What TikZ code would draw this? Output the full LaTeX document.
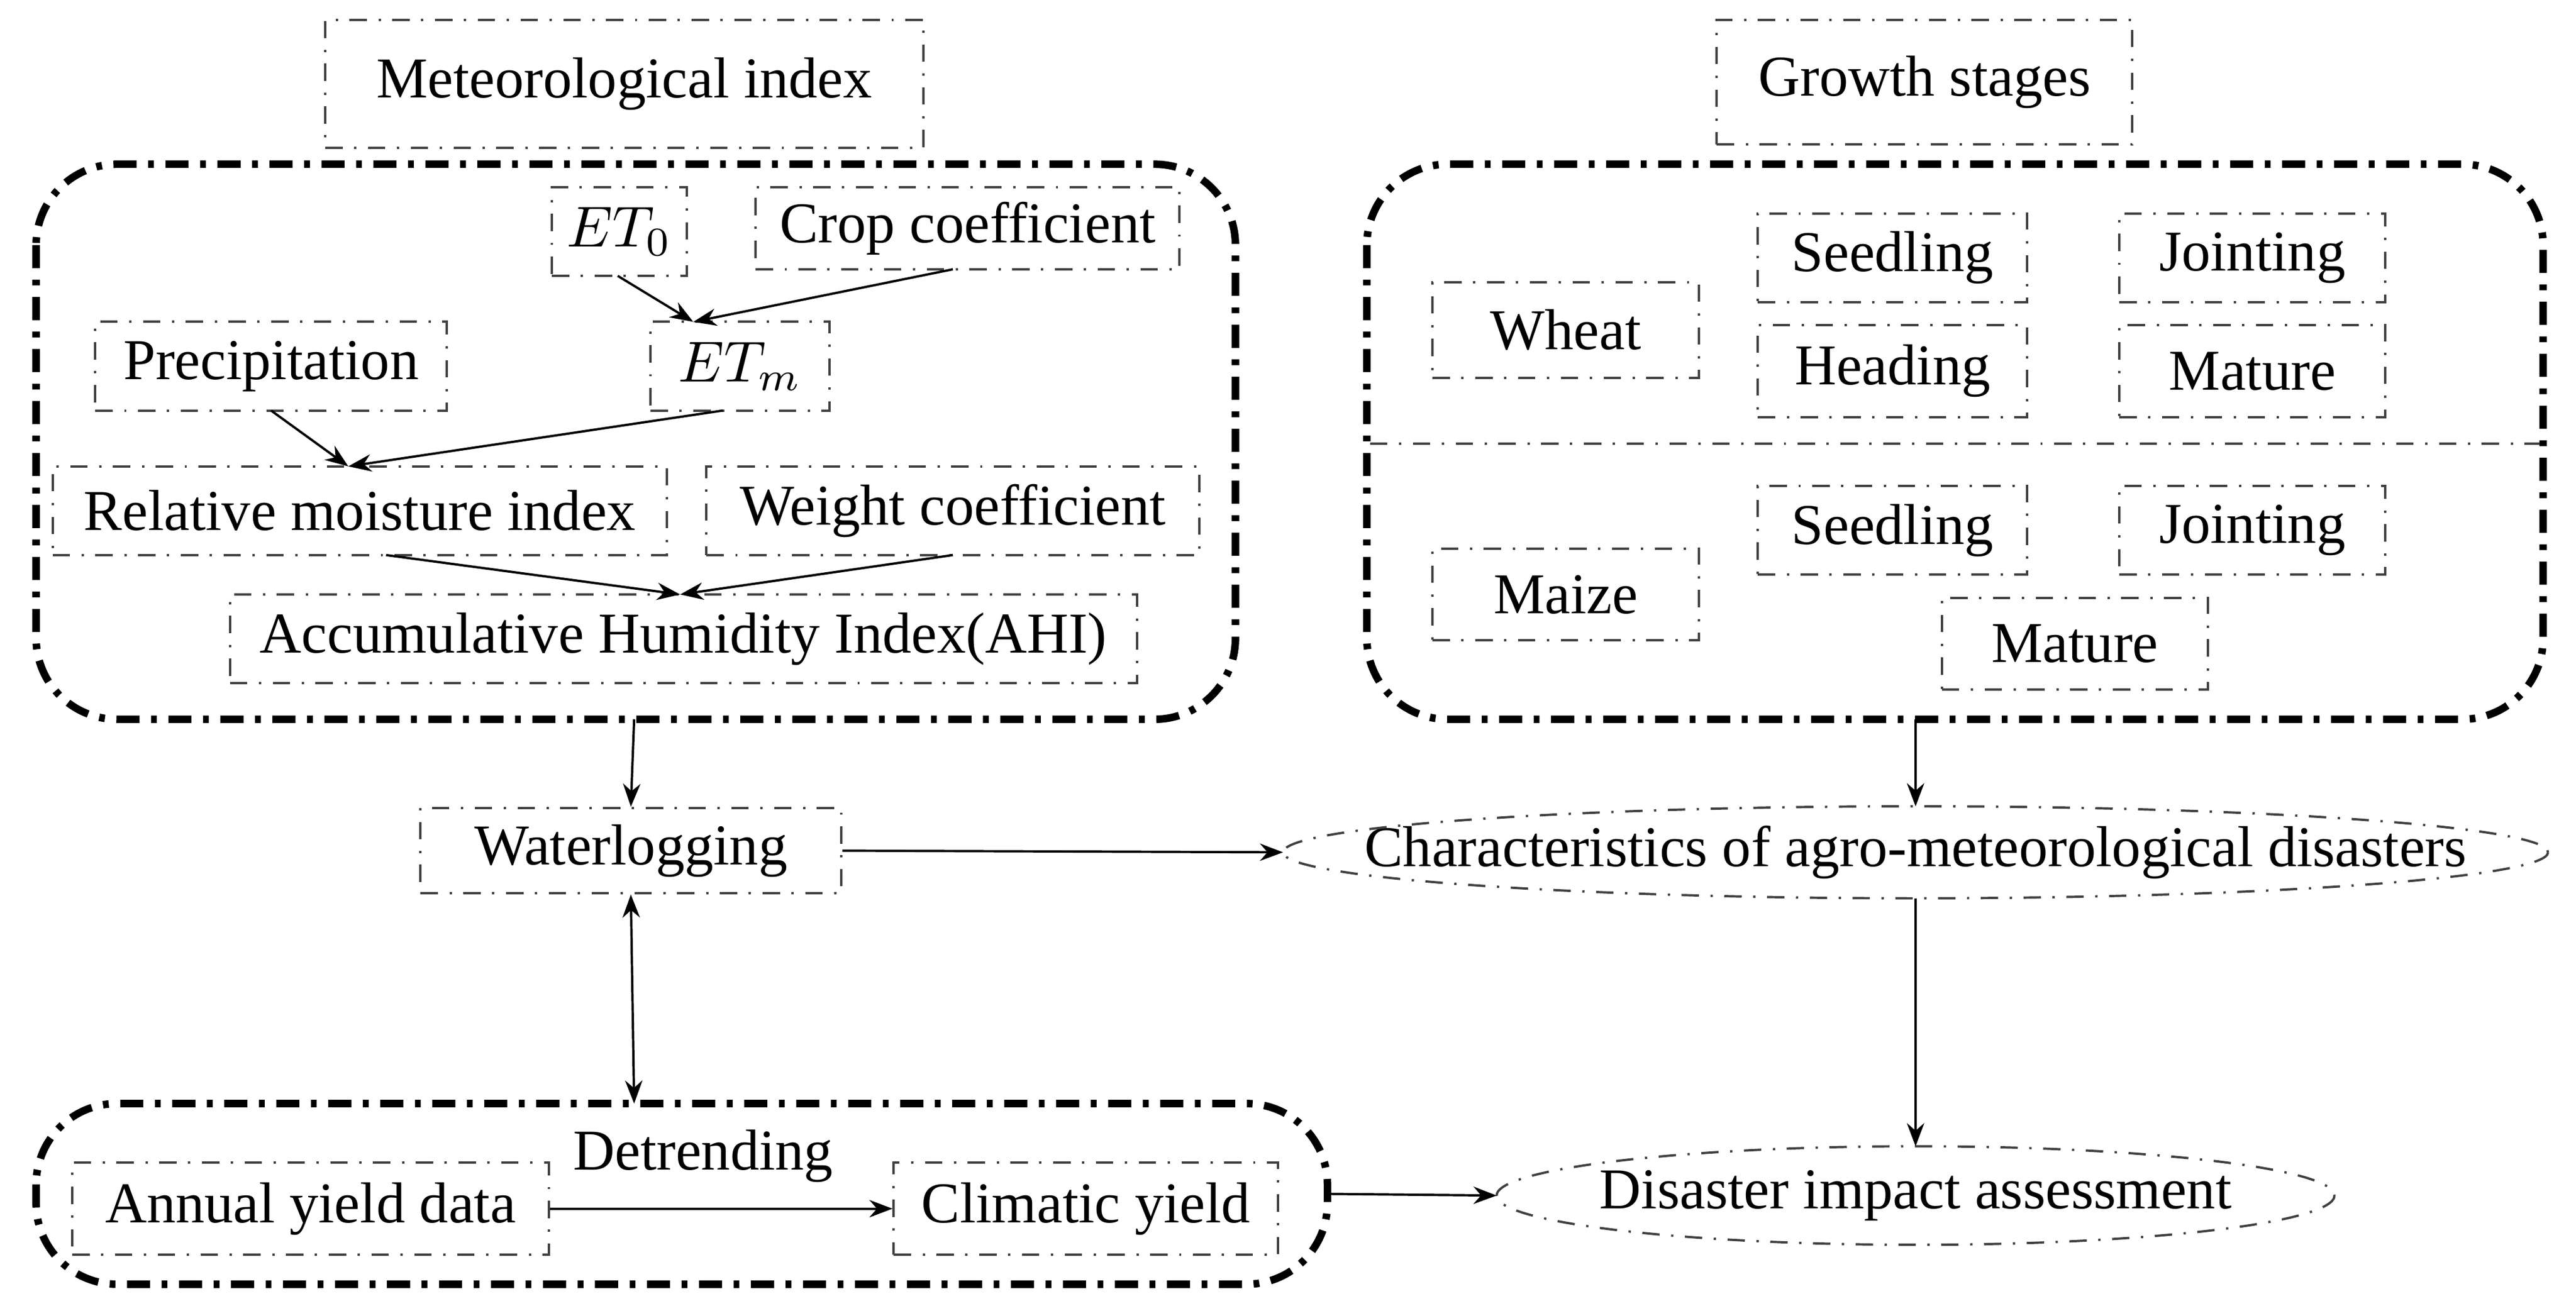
\documentclass[tikz,border=0pt]{standalone}
\usepackage{fontspec}
\setmainfont{Liberation Serif}
\usetikzlibrary{arrows.meta,shapes.geometric}
\begin{document}
\begin{tikzpicture}[x=0.01cm,y=-0.01cm,
 font=\fontsize{10}{12}\selectfont,
 sb/.style={draw=black!75,dash dot,line width=0.4pt,inner sep=0},
 big/.style={draw,line width=1.3pt,dash pattern=on 4pt off 2pt on 1pt off 2pt,rounded corners=14pt},
 el/.style={draw=black!75,dash dot,line width=0.4pt},
 ar/.style={-{Stealth[length=4pt,width=3pt]},line width=0.4pt}]
\useasboundingbox (0,0) rectangle (1568,798);
\def\bx#1#2#3#4#5#6{\node[sb,minimum width={(#4-#2)*0.01cm},minimum height={(#5-#3)*0.01cm}] (#1) at ({(#2+#4)/2},{(#3+#5)/2}) {#6};}
\bx{mi}{198}{12}{562}{90}{Meteorological index}
\bx{gs}{1045}{12}{1298}{88}{Growth stages}
\draw[big] (22,100) rectangle (752,438);
\draw[big] (832,100) rectangle (1548,438);
\coordinate (lb) at (386,438); \coordinate (rb) at (1166,438);
\bx{et0}{336}{114}{418}{168}{$ET_0$}
\bx{cc}{460}{114}{718}{164}{Crop coefficient}
\bx{pr}{58}{196}{272}{250}{Precipitation}
\bx{etm}{396}{196}{505}{250}{$ET_m$}
\bx{rm}{32}{284}{406}{338}{Relative moisture index}
\bx{wc}{430}{284}{730}{338}{Weight coefficient}
\bx{ahi}{140}{362}{692}{416}{Accumulative Humidity Index(AHI)}
\coordinate (p1) at (422,196); \coordinate (p2) at (212,284); \coordinate (p3) at (414,362);
\coordinate (q1) at (376,168); \coordinate (q2) at (580,164);
\coordinate (q3) at (165,250); \coordinate (q4) at (440,250);
\coordinate (q5) at (235,338); \coordinate (q6) at (580,338);
\draw[ar] (q1) -- (p1); \draw[ar] (q2) -- (p1);
\draw[ar] (q3) -- (p2); \draw[ar] (q4) -- (p2);
\draw[ar] (q5) -- (p3); \draw[ar] (q6) -- (p3);
\bx{wh}{872}{172}{1034}{230}{Wheat}
\bx{s1}{1070}{130}{1234}{184}{Seedling}
\bx{j1}{1290}{130}{1452}{184}{Jointing}
\bx{h1}{1070}{198}{1234}{254}{Heading}
\bx{m1}{1290}{198}{1452}{254}{Mature}
\draw[black!75,dash dot,line width=0.4pt] (834,270) -- (1546,270);
\bx{mz}{872}{334}{1034}{390}{Maize}
\bx{s2}{1070}{296}{1234}{350}{Seedling}
\bx{j2}{1290}{296}{1452}{350}{Jointing}
\bx{m2}{1182}{364}{1344}{420}{Mature}
\bx{wl}{256}{492}{512}{544}{Waterlogging}
\node (ch) at (1166,519) {Characteristics of agro-meteorological disasters};
\draw[el] (ch.center) ellipse [x radius=385, y radius=28];
\coordinate (chn) at (1166,491); \coordinate (chs) at (1166,547); \coordinate (chw) at (781,519);
\draw[big] (22,672) rectangle (808,782);
\coordinate (bt) at (386,672); \coordinate (br) at (808,727);
\bx{ay}{44}{708}{334}{764}{Annual yield data}
\bx{cy}{544}{708}{778}{764}{Climatic yield}
\node (dt) at (428,704) {Detrending};
\node (da) at (1166,728) {Disaster impact assessment};
\draw[el] (da.center) ellipse [x radius=255, y radius=30];
\coordinate (dan) at (1166,698); \coordinate (daw) at (911,728);
\draw[ar] (lb) -- (wl.north);
\draw[ar] (rb) -- (chn);
\draw[ar] (wl.east) -- (chw);
\draw[{Stealth[length=4pt,width=3pt]}-{Stealth[length=4pt,width=3pt]},line width=0.4pt] (wl.south) -- (bt);
\draw[ar] (chs) -- (dan);
\draw[ar] (br) -- (daw);
\draw[ar] (ay.east) -- (cy.west);
\end{tikzpicture}
\end{document}
